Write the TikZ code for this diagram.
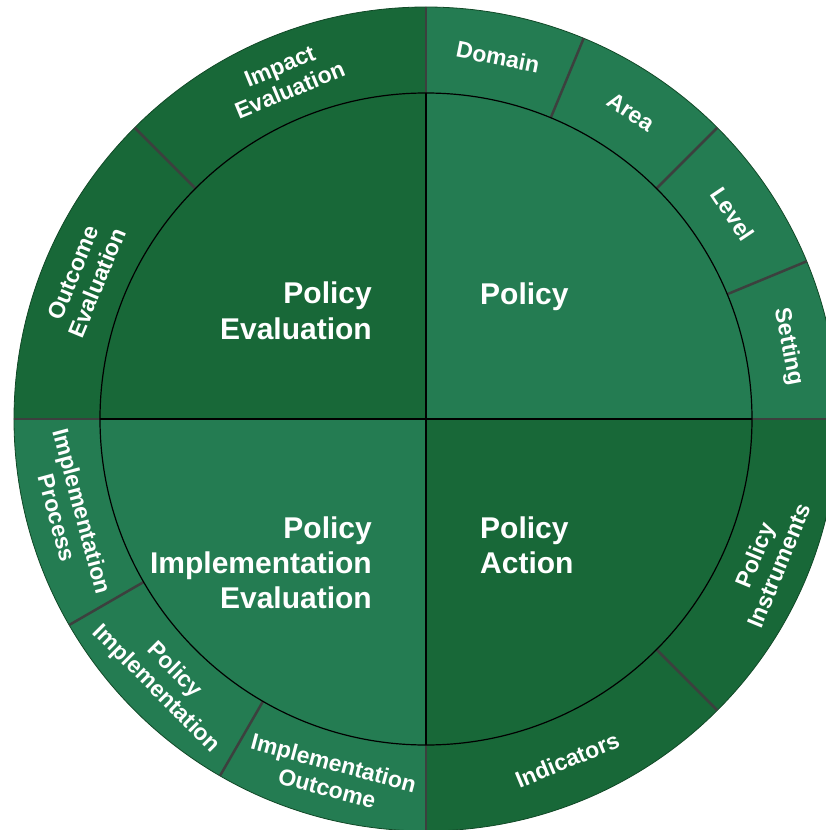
\documentclass[tikz,border=0pt]{standalone}
\usepackage{fontspec}
\setmainfont{Liberation Sans}
\definecolor{darkgreen}{RGB}{24,104,56}
\definecolor{lightgreen}{RGB}{36,124,82}
\definecolor{divgray}{RGB}{60,64,62}
\begin{document}
\begin{tikzpicture}[x=1pt, y=1pt,
		ringlabel/.style={text=white, inner sep=0pt, align=center, font=\bfseries\fontsize{23}{26}\selectfont},
		corelabel/.style={text=white, inner sep=0pt, font=\bfseries\fontsize{30}{35}\selectfont}]
				% Define radii
				\def\ri{326}
				\def\ro{412}
				\def\rm{369}

				% Frame of the picture
				\useasboundingbox (-426,-411) rectangle (400,419);
				\clip (-426,-411) rectangle (400,419);

				% Fill quadrants
				\fill[lightgreen] (0,0) -- (\ro,0) arc (0:90:\ro) -- cycle;
				\fill[darkgreen] (0,0) -- (0,\ro) arc (90:180:\ro) -- cycle;
				\fill[lightgreen] (0,0) -- (-\ro,0) arc (180:270:\ro) -- cycle;
				\fill[darkgreen] (0,0) -- (0,-\ro) arc (270:360:\ro) -- cycle;
				\draw[darkgreen!70!black, line width=0.8pt] (0,0) circle (\ro);

				% Draw ring dividers
				\foreach \ang in {0, 22.5, 45, 67.5, 90, 135, 180, 210, 240, 270, 315}
					\draw[divgray, line width=2.5pt] (\ang:\ri) -- (\ang:\ro);

				% Draw inner circle and cross
				\draw[black, line width=1.2pt] (0,0) circle (\ri);
				\draw[black, line width=2pt] (-\ri,0) -- (\ri,0);
				\draw[black, line width=2pt] (0,-\ri) -- (0,\ri);

				% Ring labels, upper half
				\foreach \ang/\txt/\nm in {78.75/Domain/domain, 56.25/Area/area, 33.75/Level/level,
						11.25/Setting/setting, 112.5/{Impact\\Evaluation}/impact,
						157.5/{Outcome\\Evaluation}/outcome}
					\node[ringlabel, rotate=\ang-90] (\nm) at (\ang:\rm) {\txt};

				% Ring labels, lower half
				\foreach \ang/\txt/\nm in {195/{Implementation\\Process}/process,
						225/{Policy\\Implementation}/polimpl, 255/{Implementation\\Outcome}/implout,
						292.5/Indicators/indicators, 337.5/{Policy\\Instruments}/instruments}
					\node[ringlabel, rotate=\ang+90] (\nm) at (\ang:\rm) {\txt};

				% Core labels (base = last line)
				\node[corelabel, align=right, anchor=base east] (evaluation) at (-54,80) {Policy\\Evaluation};
				\node[corelabel, align=left, anchor=base west] (policy) at (54,114) {Policy};
				\node[corelabel, align=right, anchor=base east] (implementation) at (-54,-189) {Policy\\Implementation\\Evaluation};
				\node[corelabel, align=left, anchor=base west] (action) at (54,-154) {Policy\\Action};
			\end{tikzpicture}
\end{document}
